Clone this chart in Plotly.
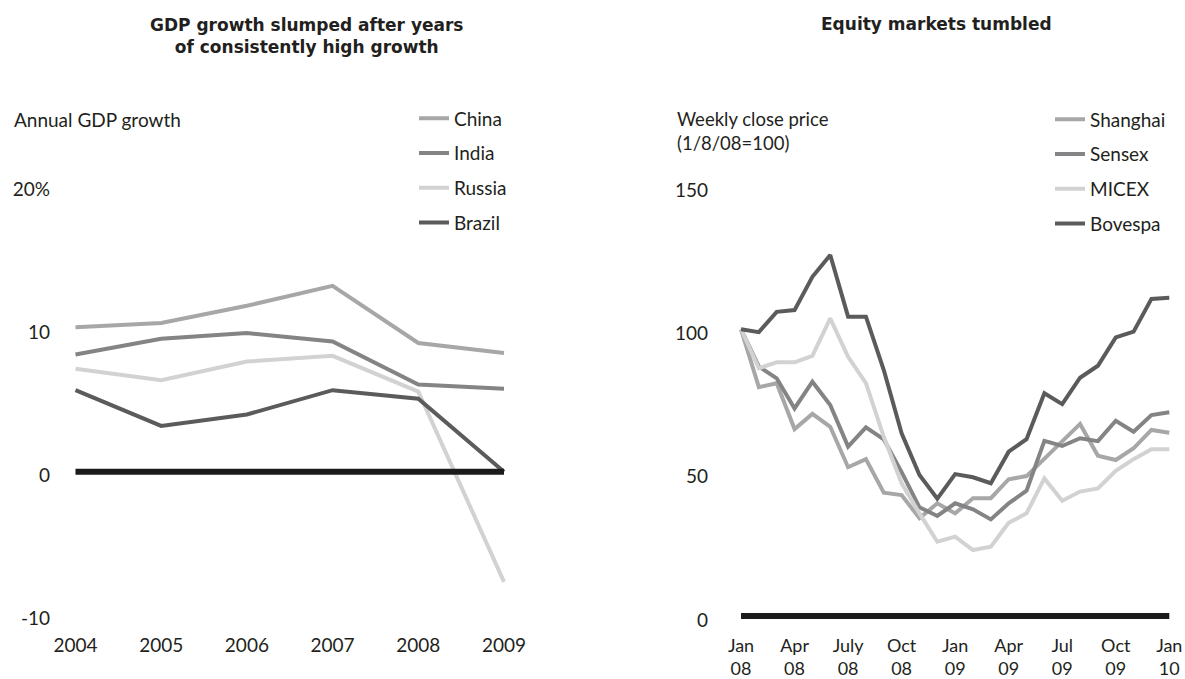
import plotly.graph_objects as go

# ---------------- data ----------------
years = [2004, 2005, 2006, 2007, 2008, 2009]
china = [10.1, 10.4, 11.6, 13.0, 9.0, 8.3]
india = [8.2, 9.3, 9.7, 9.1, 6.1, 5.8]
russia = [7.2, 6.4, 7.7, 8.1, 5.6, -7.7]
brazil = [5.7, 3.2, 4.0, 5.7, 5.1, 0.0]
gdp_ticks = [20, 10, 0, -10]
gdp_tick_text = ["20%", "10", "0", "-10"]

months = list(range(25))  # Jan 08 ... Jan 10, monthly
shanghai = [100, 79.8, 81.2, 65.2, 70.5, 66.0, 51.9, 54.7, 43.0, 42.2, 34.1, 39.3, 35.8,
            41.1, 41.1, 47.7, 48.8, 55.0, 60.8, 67.0, 55.9, 54.4, 58.5, 64.9, 63.9]
sensex = [100, 87.0, 82.9, 72.4, 81.7, 73.6, 59.1, 65.8, 61.6, 50.2, 37.9, 34.9, 39.3,
          37.2, 33.7, 39.3, 43.7, 61.1, 59.3, 62.0, 61.0, 68.1, 64.3, 70.1, 71.1]
micex = [100, 86.4, 88.5, 88.5, 90.7, 103.8, 90.4, 81.2, 62.5, 46.3, 35.8, 25.9, 27.7,
         23.0, 24.2, 32.5, 35.8, 48.0, 40.2, 43.4, 44.5, 50.6, 54.7, 58.2, 58.2]
bovespa = [100, 99.0, 106.1, 106.7, 118.3, 125.9, 104.4, 104.4, 85.8, 63.7, 49.2, 40.9, 49.5,
           48.4, 46.3, 57.3, 61.7, 77.7, 73.9, 83.1, 87.3, 97.2, 99.2, 110.6, 111.0]
eq_ticks = [150, 100, 50, 0]
eq_tick_text = ["150", "100", "50", "0"]
month_tick_vals = [0, 3, 6, 9, 12, 15, 18, 21, 24]
month_tick_text = ["Jan<br>08", "Apr<br>08", "July<br>08", "Oct<br>08", "Jan<br>09",
                   "Apr<br>09", "Jul<br>09", "Oct<br>09", "Jan<br>10"]
zero_value = 0

# ---------------- style ----------------
FONT = "Lato"
TFONT = "DejaVu Sans"
TXT = "#231f20"
C1, C2, C3, C4 = "#a7a7a8", "#848486", "#d2d2d3", "#5b5b5c"
LW = 4
W, H = 1185, 679


def px_x(p):
    return p / W


def px_y(p):
    return 1 - p / H


fig = go.Figure()

left = [("China", china, C1), ("India", india, C2), ("Russia", russia, C3), ("Brazil", brazil, C4)]
for name, vals, col in left:
    fig.add_trace(go.Scatter(x=years, y=vals, name=name, mode="lines",
                             line=dict(color=col, width=LW), legend="legend",
                             legendgroup=name, xaxis="x", yaxis="y"))
fig.add_trace(go.Scatter(x=[years[0], years[-1]], y=[zero_value, zero_value], mode="lines",
                         line=dict(color="#1d1a1b", width=6), showlegend=False,
                         xaxis="x", yaxis="y"))

right = [("Shanghai", shanghai, C1), ("Sensex", sensex, C2), ("MICEX", micex, C3), ("Bovespa", bovespa, C4)]
for name, vals, col in right:
    fig.add_trace(go.Scatter(x=months, y=vals, name=name, mode="lines",
                             line=dict(color=col, width=LW), legend="legend2",
                             legendgroup=name, xaxis="x2", yaxis="y2"))
fig.add_trace(go.Scatter(x=[months[0], months[-1]], y=[zero_value, zero_value], mode="lines",
                         line=dict(color="#1d1a1b", width=6), showlegend=False,
                         xaxis="x2", yaxis="y2"))

ydom = [px_y(629), px_y(171.4)]
axis_common = dict(showgrid=False, zeroline=False, showline=False, ticks="", automargin=False,
                   fixedrange=True)
tick_font = dict(family=FONT, size=19, color=TXT)

legend_common = dict(font=dict(family=FONT, size=19, color=TXT), bgcolor="rgba(0,0,0,0)",
                     xanchor="left", yanchor="top", tracegroupgap=7, itemwidth=30,
                     traceorder="grouped")

fig.update_layout(
    width=W, height=H, margin=dict(l=0, r=0, t=0, b=0, autoexpand=False),
    paper_bgcolor="white", plot_bgcolor="white",
    font=dict(family=FONT, size=19, color=TXT),
    xaxis=dict(domain=[px_x(55), px_x(525)], range=[2003.761, 2009.245],
               tickvals=years, ticktext=[str(y) for y in years], ticklabelstandoff=3,
               tickfont=tick_font, anchor="y", **axis_common),
    yaxis=dict(domain=ydom, range=[-11.0, 21.0], tickvals=gdp_ticks, ticktext=gdp_tick_text,
               ticklabelstandoff=4, ticklabelshift=4, tickfont=tick_font, anchor="x",
               **axis_common),
    xaxis2=dict(domain=[px_x(713), px_x(1180)], range=[-1.57, 24.6],
                tickvals=month_tick_vals, ticktext=month_tick_text, ticklabelstandoff=4,
                tickfont=dict(family=FONT, size=18, color=TXT), anchor="y2", **axis_common),
    yaxis2=dict(domain=ydom, range=[-4.53, 155.07], tickvals=eq_ticks, ticktext=eq_tick_text,
                ticklabelstandoff=4, ticklabelshift=4, tickfont=tick_font, anchor="x2",
                **axis_common),
    legend=dict(x=px_x(414), y=px_y(99.5), **legend_common),
    legend2=dict(x=px_x(1050), y=px_y(100.5), **legend_common),
    showlegend=True,
)

annos = [
    dict(text="<b>GDP growth slumped after years<br>of consistently high growth</b>",
         x=px_x(307), y=px_y(36), xanchor="center", yanchor="middle",
         font=dict(family=TFONT, size=17, color=TXT)),
    dict(text="<b>Equity markets tumbled</b>", x=px_x(936), y=px_y(24), xanchor="center",
         yanchor="middle", font=dict(family=TFONT, size=17, color=TXT)),
    dict(text="Annual GDP growth", x=px_x(12), y=px_y(119), xanchor="left", yanchor="middle"),
    dict(text="Weekly close price<br>(1/8/08=100)", x=px_x(675), y=px_y(130.5),
         xanchor="left", yanchor="middle", align="left",
         font=dict(family=FONT, size=18.5, color=TXT)),
]
for a in annos:
    a.setdefault("font", dict(family=FONT, size=19, color=TXT))
    fig.add_annotation(xref="paper", yref="paper", showarrow=False, **a)

fig.write_html(
    "out.html",
    config={"displayModeBar": False},
    post_script="document.body.style.margin='0';document.body.style.overflow='hidden';",
)
